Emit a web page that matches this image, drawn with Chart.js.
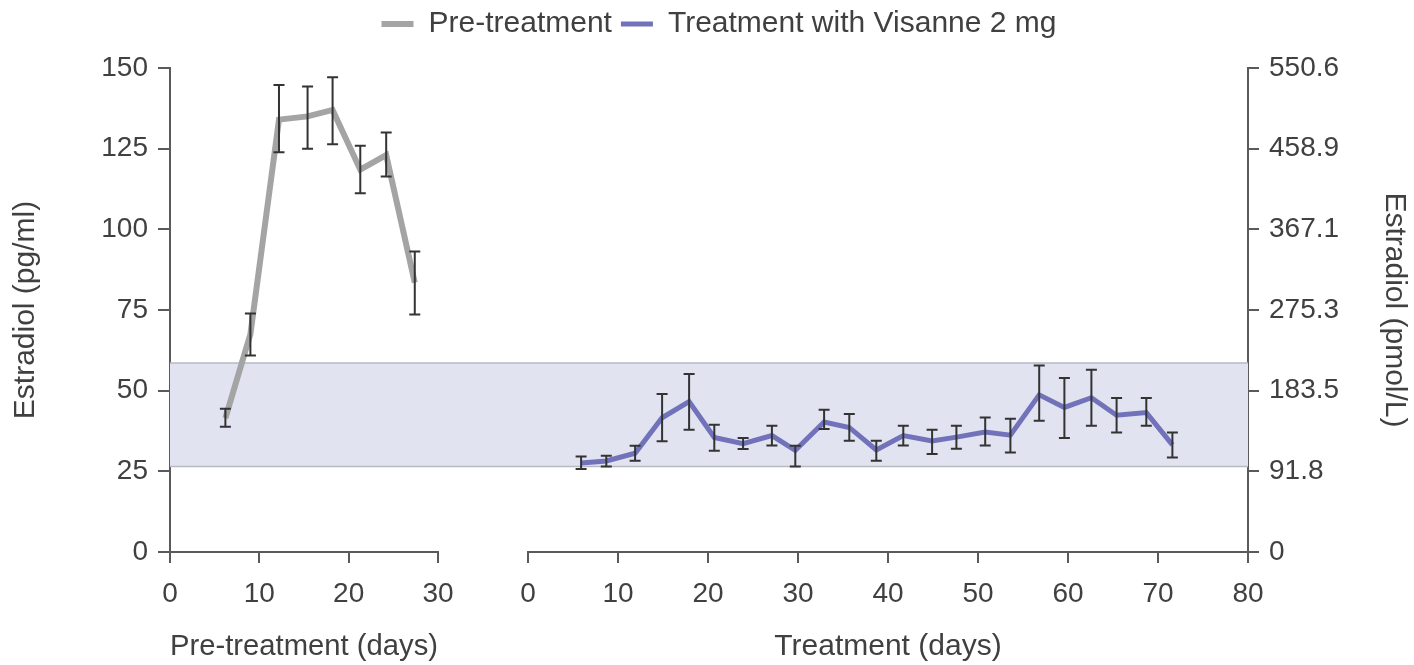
<!DOCTYPE html>
<html>
<head>
<meta charset="utf-8">
<title>Estradiol</title>
<script src="https://cdn.jsdelivr.net/npm/chart.js@4.4.1/dist/chart.umd.min.js"></script>
<style>
  html, body { margin: 0; padding: 0; background: #fff; }
  canvas { display: block; }
</style>
</head>
<body>
<canvas id="chart" width="1414" height="665"></canvas>
<script>
// pre-treatment cycle (pg/ml, mean with error bar ends)
const preDays = [6.2, 9.0, 12.2, 15.4, 18.2, 21.3, 24.2, 27.4];
const preMean = [41.5, 67.5, 134, 135, 137, 118.5, 123, 83.5];
const preHigh = [44.4, 73.9, 144.7, 144.3, 147.1, 125.9, 130, 93.1];
const preLow = [38.8, 60.9, 123.9, 125, 126.4, 111.2, 116.4, 73.6];

// treatment with Visanne 2 mg
const trtDays = [5.9, 8.7, 11.9, 14.9, 17.9, 20.7, 23.9, 27.1, 29.7, 32.9, 35.7, 38.7,
                 41.7, 44.9, 47.6, 50.8, 53.6, 56.8, 59.6, 62.6, 65.4, 68.7, 71.6];
const trtMean = [27.6, 28.2, 30.6, 41.6, 46.6, 35.5, 33.6, 36.1, 31.5, 40.3, 38.6, 31.6,
                 36.1, 34.4, 35.6, 37.2, 36.2, 48.7, 44.8, 47.8, 42.4, 43.2, 33.2];
const trtHigh = [29.6, 29.8, 32.9, 49, 55.2, 39.4, 35.3, 39.1, 32.9, 44.1, 42.8, 34.5,
                 39.1, 37.9, 39.1, 41.7, 41.3, 57.8, 53.9, 56.5, 47.7, 47.7, 37];
const trtLow = [25.7, 26.5, 28.3, 34.3, 37.9, 31.4, 31.9, 33, 26.5, 38.1, 34.5, 28.3,
                33, 30.4, 32, 33, 30.8, 40.7, 35.3, 39.1, 37, 39.1, 29.3];

// shaded reference range (pg/ml)
const bandLow = 26.5;
const bandHigh = 58.6;

const preTicks = [0, 10, 20, 30];
const trtTicks = [0, 10, 20, 30, 40, 50, 60, 70, 80];
const pgTicks = [0, 25, 50, 75, 100, 125, 150];
const pmolLabels = ['0', '91.8', '183.5', '275.3', '367.1', '458.9', '550.6'];

const axisColor = '#5a5a5a';
const textColor = '#404040';
const fontFamily = '"Liberation Sans", Arial, sans-serif';

function points(xs, ys) {
    return xs.map((x, i) => ({ x: x, y: ys[i] }));
}

const errors = [[preLow, preHigh], [trtLow, trtHigh]];

// extra room under the legend, and nudge it a little to the right
const legendSpacer = {
    id: 'legendSpacer',
    beforeInit(chart) {
        const legend = chart.legend;
        const fit = legend.fit;
        const draw = legend.draw;
        legend.fit = function () {
            fit.call(this);
            this.height += 19;
        };
        legend.draw = function () {
            this.ctx.save();
            this.ctx.translate(12, 0);
            draw.call(this);
            this.ctx.restore();
        };
    }
};

const bandPlugin = {
    id: 'band',
    beforeDatasetsDraw(chart) {
        const { ctx, chartArea } = chart;
        const y = chart.scales.y;
        const top = y.getPixelForValue(bandHigh);
        const bottom = y.getPixelForValue(bandLow);
        ctx.save();
        ctx.fillStyle = '#e1e3f1';
        ctx.fillRect(chartArea.left, top, chartArea.right - chartArea.left, bottom - top);
        ctx.strokeStyle = '#b9b9c2';
        ctx.lineWidth = 1.5;
        ctx.beginPath();
        ctx.moveTo(chartArea.left, top);
        ctx.lineTo(chartArea.right, top);
        ctx.moveTo(chartArea.left, bottom);
        ctx.lineTo(chartArea.right, bottom);
        ctx.stroke();
        ctx.restore();
    }
};

const errorBarPlugin = {
    id: 'errorBars',
    afterDatasetsDraw(chart) {
        const ctx = chart.ctx;
        const y = chart.scales.y;
        ctx.save();
        ctx.strokeStyle = '#333333';
        ctx.lineWidth = 2;
        chart.data.datasets.forEach((ds, di) => {
            const xs = chart.scales[ds.xAxisID];
            const [low, high] = errors[di];
            ds.data.forEach((p, i) => {
                const px = xs.getPixelForValue(p.x);
                const t = y.getPixelForValue(high[i]);
                const b = y.getPixelForValue(low[i]);
                ctx.beginPath();
                ctx.moveTo(px, t);
                ctx.lineTo(px, b);
                ctx.moveTo(px - 5.5, t);
                ctx.lineTo(px + 5.5, t);
                ctx.moveTo(px - 5.5, b);
                ctx.lineTo(px + 5.5, b);
                ctx.stroke();
            });
        });
        ctx.restore();
    }
};

function xAxis(min, max, tickValues, weight, title) {
    return {
        type: 'linear',
        position: 'bottom',
        stack: 'days',
        stackWeight: weight,
        min: min,
        max: max,
        afterBuildTicks: s => { s.ticks = tickValues.map(v => ({ value: v })); },
        ticks: { autoSkip: false, color: textColor, font: { size: 28, family: fontFamily }, padding: 14, maxRotation: 0 },
        grid: { drawOnChartArea: false, drawTicks: true, tickLength: 11, color: axisColor, lineWidth: 2 },
        border: { color: axisColor, width: 2 },
        title: { display: true, text: title, color: textColor, font: { size: 30, family: fontFamily }, padding: { top: 20, bottom: 0 } },
        afterFit: s => { s.height = 113; }
    };
}

const ctx = document.getElementById('chart').getContext('2d');
new Chart(ctx, {
    type: 'line',
    data: {
        datasets: [{
            label: 'Pre-treatment',
            data: points(preDays, preMean),
            xAxisID: 'xPre',
            yAxisID: 'y',
            borderColor: '#a4a4a4',
            backgroundColor: '#a4a4a4',
            borderWidth: 6,
            pointRadius: 0,
            pointStyle: 'line',
            tension: 0
        }, {
            label: 'Treatment with Visanne 2 mg',
            data: points(trtDays, trtMean),
            xAxisID: 'xTrt',
            yAxisID: 'y',
            borderColor: '#7272ba',
            backgroundColor: '#7272ba',
            borderWidth: 5,
            pointRadius: 0,
            pointStyle: 'line',
            tension: 0
        }]
    },
    options: {
        responsive: false,
        animation: false,
        layout: { padding: 0 },
        plugins: {
            legend: {
                position: 'top',
                labels: {
                    usePointStyle: true,
                    pointStyleWidth: 32,
                    boxHeight: 10,
                    padding: 9,
                    color: textColor,
                    font: { size: 30, family: fontFamily }
                }
            },
            tooltip: { enabled: false }
        },
        scales: {
            xPre: xAxis(0, 30, preTicks, 268, 'Pre-treatment (days)'),
            xGap: {
                type: 'linear',
                position: 'bottom',
                stack: 'days',
                stackWeight: 90,
                min: 0,
                max: 1,
                ticks: { display: false },
                grid: { display: false },
                border: { display: false },
                afterFit: s => { s.height = 113; }
            },
            xTrt: xAxis(0, 80, trtTicks, 720, 'Treatment (days)'),
            y: {
                position: 'left',
                min: 0,
                max: 150,
                afterBuildTicks: s => { s.ticks = pgTicks.map(v => ({ value: v })); },
                ticks: { color: textColor, font: { size: 28, family: fontFamily }, padding: 10 },
                grid: { drawOnChartArea: false, tickLength: 12, color: axisColor, lineWidth: 2 },
                border: { color: axisColor, width: 2 },
                title: { display: true, text: 'Estradiol (pg/ml)', color: textColor, font: { size: 30, family: fontFamily }, padding: { top: 8, bottom: 0 } },
                afterFit: s => { s.width = 170; }
            },
            y2: {
                position: 'right',
                min: 0,
                max: 150,
                afterBuildTicks: s => { s.ticks = pgTicks.map(v => ({ value: v })); },
                ticks: { color: textColor, font: { size: 28, family: fontFamily }, padding: 10,
                         callback: (v, i) => pmolLabels[i] },
                grid: { drawOnChartArea: false, tickLength: 11, color: axisColor, lineWidth: 2 },
                border: { color: axisColor, width: 2 },
                title: { display: true, text: 'Estradiol (pmol/L)', color: textColor, font: { size: 30, family: fontFamily }, padding: { top: 2, bottom: 0 } },
                afterFit: s => { s.width = 166; }
            }
        }
    },
    plugins: [legendSpacer, bandPlugin, errorBarPlugin]
});
</script>
</body>
</html>
